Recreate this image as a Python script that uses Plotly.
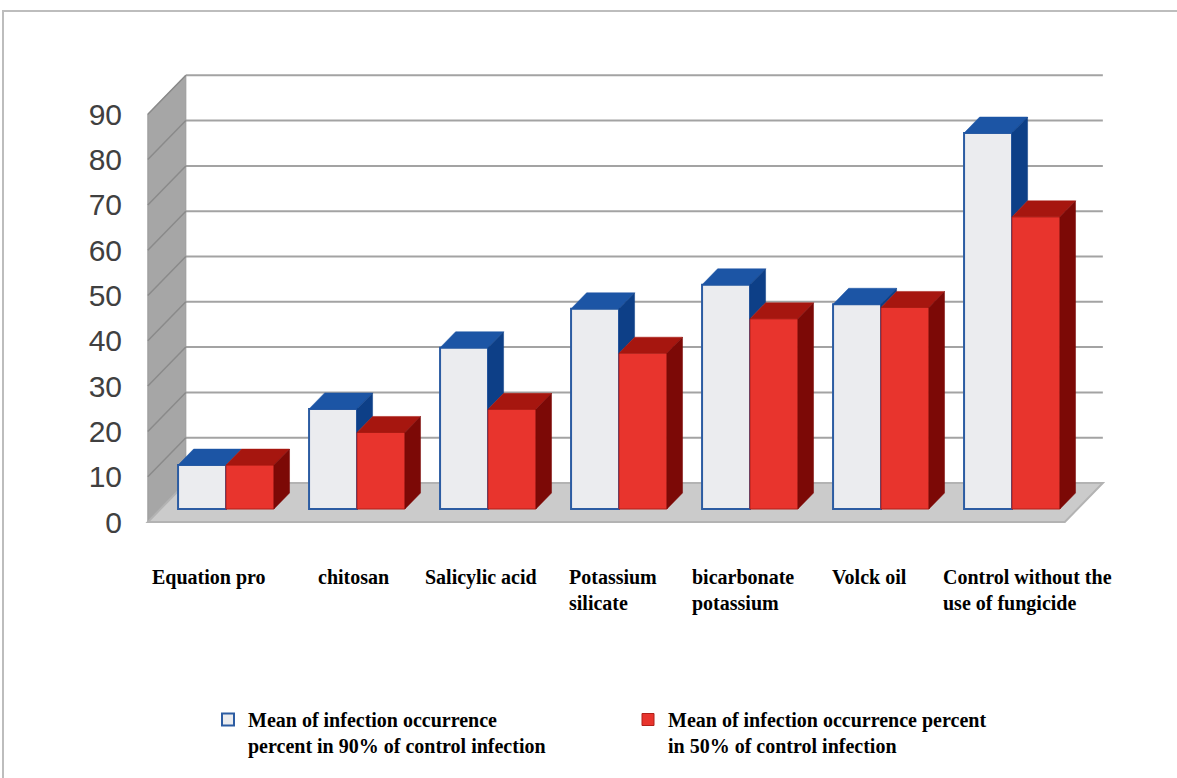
import plotly.graph_objects as go

# ---- data -------------------------------------------------------------
categories = [
    "Equation pro",
    "chitosan",
    "Salicylic acid",
    "Potassium<br>silicate",
    "bicarbonate<br>potassium",
    "Volck oil",
    "Control without the<br>use of fungicide",
]
infection_90 = [9.7, 22.1, 35.6, 44.2, 49.5, 45.2, 83.0]
infection_50 = [9.7, 16.9, 22.0, 34.4, 42.0, 44.5, 64.5]
y_ticks = [0, 10, 20, 30, 40, 50, 60, 70, 80, 90]
series_names = [
    "Mean of infection occurrence<br>percent in 90% of control infection",
    "Mean of infection occurrence percent<br>in 50% of control infection",
]

# ---- geometry of the pseudo-3D frame ------------------------------------
W, H = 1177, 778
PLOT_L, PLOT_R, PLOT_T, PLOT_B = 140, 1115, 60, 535
PX_PER_CAT = 131.0          # horizontal pixels per category
PX_PER_VAL = 4.53           # vertical pixels per unit of value
CAT0_PX, VAL0_PX = 226.0, 509.0   # pixel of (category 0, value 0) on the bar plane

x_range = [(PLOT_L - CAT0_PX) / PX_PER_CAT, (PLOT_R - CAT0_PX) / PX_PER_CAT]
y_range = [(VAL0_PX - PLOT_B) / PX_PER_VAL, (VAL0_PX - PLOT_T) / PX_PER_VAL]

DX = 38.0 / PX_PER_CAT      # full floor depth, horizontal component (category units)
DY = 39.0 / PX_PER_VAL      # full floor depth, vertical component (value units)
T_BAR = 1.0 / 3.0           # depth of the bar front faces (0 = front, 1 = back wall)
BAR_DEPTH = 0.41
BW = 0.366                  # bar width in category units
X_LEFT, X_RIGHT = -0.5, len(categories) - 0.5
V_TOP = y_ticks[-1]


def proj(x, v, t):
    """Oblique projection of (category, value, depth) onto the 2D axes."""
    return x + (t - T_BAR) * DX, v + (t - T_BAR) * DY


def path(points):
    return "M " + " L ".join(f"{px:.4f},{py:.4f}" for px, py in points) + " Z"


def polyline(points):
    return "M " + " L ".join(f"{px:.4f},{py:.4f}" for px, py in points)


shapes = []

# back-wall gridlines
for g in y_ticks[1:]:
    shapes.append(dict(type="path", xref="x", yref="y", layer="below",
                       path=polyline([proj(X_LEFT, g, 1), proj(X_RIGHT, g, 1)]),
                       line=dict(color="#a3a3a3", width=2)))

# left side wall
shapes.append(dict(type="path", xref="x", yref="y", layer="below",
                   path=path([proj(X_LEFT, 0, 0), proj(X_LEFT, V_TOP, 0),
                              proj(X_LEFT, V_TOP, 1), proj(X_LEFT, 0, 1)]),
                   fillcolor="#a6a6a6", line=dict(color="#9a9a9a", width=1)))
for g in y_ticks[1:]:
    shapes.append(dict(type="path", xref="x", yref="y", layer="below",
                       path=polyline([proj(X_LEFT, g, 0), proj(X_LEFT, g, 1)]),
                       line=dict(color="#8a8a8a", width=1.5)))

# floor
shapes.append(dict(type="path", xref="x", yref="y", layer="below",
                   path=path([proj(X_LEFT, 0, 0), proj(X_RIGHT, 0, 0),
                              proj(X_RIGHT, 0, 1), proj(X_LEFT, 0, 1)]),
                   fillcolor="#cbcbcb", line=dict(color="#b3b3b3", width=2)))

# outer frame of the chart area
shapes.append(dict(type="rect", xref="paper", yref="paper",
                   x0=(3 - PLOT_L) / (PLOT_R - PLOT_L), x1=(W + 20 - PLOT_L) / (PLOT_R - PLOT_L),
                   y0=(PLOT_B - 11) / (PLOT_B - PLOT_T), y1=(PLOT_B - H - 20) / (PLOT_B - PLOT_T),
                   line=dict(color="#bdbdbd", width=2), layer="below"))

# ---- bar faces ---------------------------------------------------------
xs = list(range(len(categories)))
t0, t1 = T_BAR, T_BAR + BAR_DEPTH


def top_face(xl, xr, v):
    return [proj(xl, v, t0), proj(xr, v, t0), proj(xr, v, t1), proj(xl, v, t1)]


def side_face(x, v0, v1):
    return [proj(x, v0, t0), proj(x, v1, t0), proj(x, v1, t1), proj(x, v0, t1)]


def polys_to_xy(polys):
    px, py = [], []
    for poly in polys:
        for a, b in poly + [poly[0]]:
            px.append(a)
            py.append(b)
        px.append(None)
        py.append(None)
    return px, py


blue_tops, blue_sides, red_tops, red_sides = [], [], [], []
for i, (vw, vr) in enumerate(zip(infection_90, infection_50)):
    blue_tops.append(top_face(i - BW, i, vw))
    if vw > vr:  # part of the light bar's side that rises above the red bar
        blue_sides.append(side_face(i, vr, vw))
    red_tops.append(top_face(i, i + BW, vr))
    red_sides.append(side_face(i + BW, 0, vr))

fig = go.Figure()
fig.add_trace(go.Bar(
    x=xs, y=infection_90, width=BW, offset=-BW, name=series_names[0],
    marker=dict(color="#ebecef", line=dict(color="#2c5ca2", width=2)),
    hoverinfo="y",
))
fig.add_trace(go.Bar(
    x=xs, y=infection_50, width=BW, offset=0, name=series_names[1],
    marker=dict(color="#e8342d", line=dict(color="#b0201a", width=1)),
    hoverinfo="y",
))

for polys, color in [(blue_tops, "#1c55a5"), (blue_sides, "#0d3f87"),
                     (red_tops, "#a6160f"), (red_sides, "#7c0906")]:
    px, py = polys_to_xy(polys)
    fig.add_trace(go.Scatter(x=px, y=py, mode="lines", fill="toself",
                             fillcolor=color, line=dict(color=color, width=0.5),
                             hoverinfo="skip", showlegend=False))

# ---- category labels under the floor ------------------------------------
label_nudge_px = [-17, -4, -7, -6, -7, -12, 15]
annotations = []
for i, (name, nudge) in enumerate(zip(categories, label_nudge_px)):
    annotations.append(dict(
        x=i, xref="x", y=(PLOT_B - 564) / (PLOT_B - PLOT_T), yref="paper",
        text=name, showarrow=False, xanchor="center", yanchor="top", align="left",
        xshift=nudge,
        font=dict(family="Liberation Serif, Times New Roman, serif", size=20,
                  color="#000000", weight="bold"),
    ))

fig.update_layout(
    width=W, height=H,
    margin=dict(l=PLOT_L, r=W - PLOT_R, t=PLOT_T, b=H - PLOT_B, autoexpand=False),
    paper_bgcolor="white", plot_bgcolor="rgba(0,0,0,0)",
    barmode="overlay",
    shapes=shapes,
    annotations=annotations,
    xaxis=dict(range=x_range, visible=False, fixedrange=True),
    yaxis=dict(
        range=y_range, showgrid=False, zeroline=False, showline=False,
        tickmode="array",
        tickvals=[g - T_BAR * DY for g in y_ticks],
        ticktext=[str(g) for g in y_ticks],
        ticks="", ticklabelstandoff=17,
        tickfont=dict(family="Liberation Sans Narrow, Arial Narrow, Liberation Sans, sans-serif",
                      size=30, color="#404040"),
        fixedrange=True,
    ),
    showlegend=True,
    legend=dict(
        orientation="h", x=(208 - PLOT_L) / (PLOT_R - PLOT_L), xanchor="left",
        y=(PLOT_B - 700) / (PLOT_B - PLOT_T), yanchor="top",
        entrywidth=375, entrywidthmode="pixels", valign="top",
        bgcolor="rgba(0,0,0,0)", traceorder="normal",
        font=dict(family="Liberation Serif, Times New Roman, serif", size=20,
                  color="#000000", weight="bold"),
    ),
)

fig.write_html("out.html")
